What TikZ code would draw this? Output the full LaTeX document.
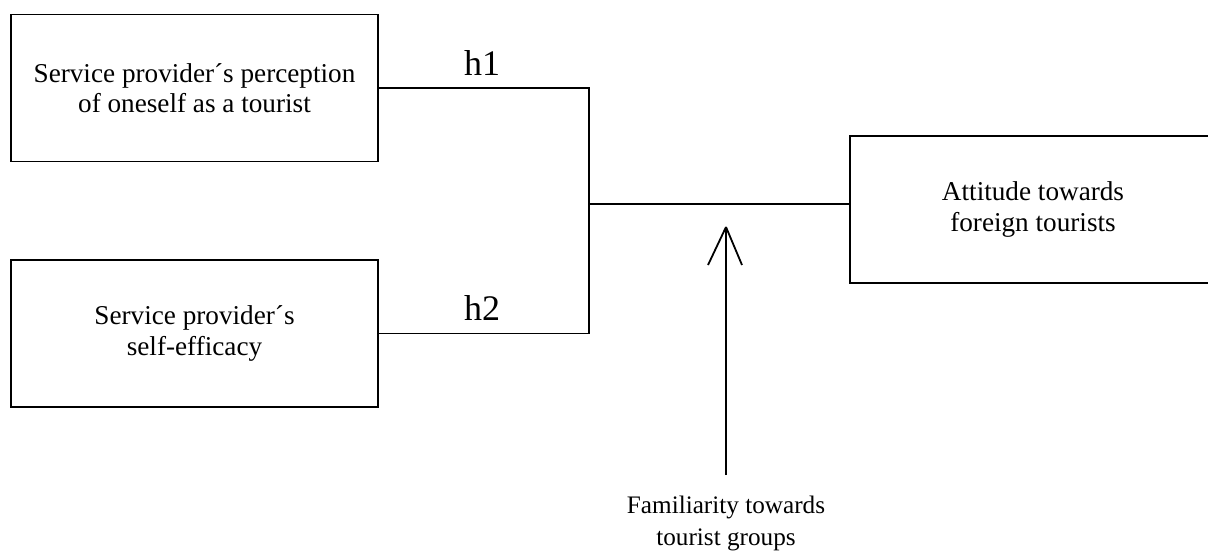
\documentclass[tikz,border=0pt]{standalone}
\usepackage{fontspec}
\setmainfont{Liberation Serif}
\begin{document}
\begin{tikzpicture}[x=0.5pt,y=-0.5pt,
  line width=0.9pt,
  boxnode/.style={draw, line width=0.9pt, minimum width=183.5pt, minimum height=73.5pt,
    align=center, font=\fontsize{13.6}{15.3}\selectfont, inner sep=0pt},
  hlabel/.style={font=\fontsize{18}{21}\selectfont, inner sep=0pt, anchor=base},
  plain/.style={align=center, font=\fontsize{12.6}{16}\selectfont, inner sep=0pt}]
\useasboundingbox (0,0) rectangle (1208,559);
\node[boxnode] (b1) at (194.5,88) {Service provider´s perception\\of oneself as a tourist};
\node[boxnode] (b2) at (194.5,333.5) {Service provider´s\\self-efficacy};
\node[boxnode, minimum width=183pt] (b3) at (1033,209.5) {Attitude towards\\foreign tourists};
\node[plain] (fam) at (726,523) {Familiarity towards\\tourist groups};
\coordinate (j) at (589,204);
\draw (b1.east) -| (j);
\draw (b2.east) -| (j);
\draw (j) -- (b3.west |- j);
\node[hlabel] (h1) at (482,75) {h1};
\node[hlabel] (h2) at (482,320) {h2};
\coordinate (tail) at (726,475);
\coordinate (tip) at (726,227);
\draw (tail) -- (tip);
\draw (tip) -- ++(-18,38);
\draw (tip) -- ++(16,38);
\end{tikzpicture}
\end{document}
